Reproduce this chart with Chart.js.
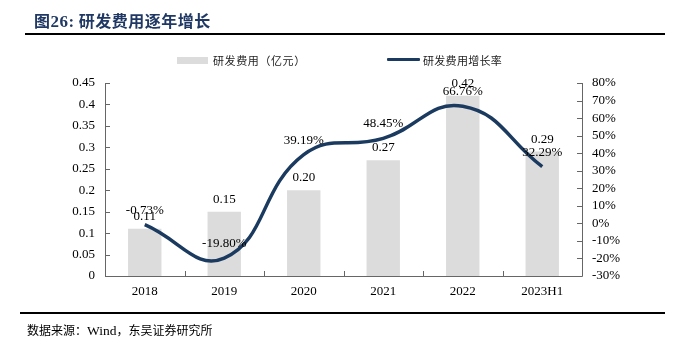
<!DOCTYPE html>
<html>
<head>
<meta charset="utf-8">
<script src="https://cdn.jsdelivr.net/npm/chart.js@4"></script>
<style>
html,body{margin:0;padding:0;background:#fff;}
#wrap{position:relative;width:685px;height:355px;overflow:hidden;}
#c{position:absolute;left:0;top:0;}
.t{position:absolute;white-space:nowrap;}
</style>
</head>
<body>
<div id="wrap">
<canvas id="c" width="685" height="355"></canvas>
<div class="t" style="left:34px;top:8px;font:bold 16px 'Noto Sans CJK SC';color:#1F3864;letter-spacing:0.5px;">图<span style="font-family:'Liberation Serif';font-size:17px;">26:</span> 研发费用逐年增长</div>
<div style="position:absolute;left:25px;top:33px;width:640px;height:2px;background:#000;"></div>
<div style="position:absolute;left:20px;top:312px;width:645px;height:2px;background:#000;"></div>
<div class="t" style="left:27px;top:321px;font:12px 'Noto Sans CJK SC';color:#000;">数据来源：<span style="font-family:'Liberation Serif';font-size:13.5px;">Wind</span>，东吴证券研究所</div>
<div style="position:absolute;left:177px;top:57px;width:31px;height:7px;background:#dcdcdc;"></div>
<div class="t" style="left:213px;top:52px;font:11px 'Noto Sans CJK SC';color:#222;letter-spacing:0.6px;">研发费用（亿元）</div>
<div style="position:absolute;left:387px;top:58px;width:33px;height:3px;background:#1B3A5F;border-radius:1px;"></div>
<div class="t" style="left:423px;top:52px;font:11px 'Noto Sans CJK SC';color:#222;letter-spacing:0.3px;">研发费用增长率</div>
</div>
<script>
const categories = ['2018','2019','2020','2021','2022','2023H1'];
const expense = [0.11, 0.15, 0.20, 0.27, 0.42, 0.29];
const growth = [-0.73, -19.80, 39.19, 48.45, 66.76, 32.29];
const expenseLabels = ['0.11','0.15','0.20','0.27','0.42','0.29'];
const growthLabels = ['-0.73%','-19.80%','39.19%','48.45%','66.76%','32.29%'];

const AREA = {left:105, right:582, top:83, bottom:276};
const serif = "'Liberation Serif', 'Times New Roman', serif";

const axesPlugin = {
  id:'axesPlugin',
  afterDatasetsDraw(chart){
    const ctx = chart.ctx, a = chart.chartArea;
    const yl = chart.scales.y, yr = chart.scales.y2;
    ctx.save();
    ctx.strokeStyle = '#666'; ctx.lineWidth = 1;
    ctx.beginPath();
    ctx.moveTo(a.left+0.5, a.top); ctx.lineTo(a.left+0.5, a.bottom+0.5);
    ctx.lineTo(a.right+0.5, a.bottom+0.5); ctx.lineTo(a.right+0.5, a.top);
    yl.ticks.forEach((t,i)=>{const p=Math.round(yl.getPixelForTick(i))+0.5; ctx.moveTo(a.left,p); ctx.lineTo(a.left+5,p);});
    yr.ticks.forEach((t,i)=>{const p=Math.round(yr.getPixelForTick(i))+0.5; ctx.moveTo(a.right,p); ctx.lineTo(a.right-5,p);});
    for(let i=0;i<=categories.length;i++){
      const p = Math.round(a.left + (a.right-a.left)*i/categories.length)+0.5;
      ctx.moveTo(p,a.bottom); ctx.lineTo(p,a.bottom-5);
    }
    ctx.stroke();
    ctx.fillStyle = '#000';
    ctx.font = "13px " + serif;
    ctx.textAlign = 'center'; ctx.textBaseline = 'alphabetic';
    const m0 = chart.getDatasetMeta(0), m1 = chart.getDatasetMeta(1);
    m0.data.forEach((el,i)=>{ ctx.fillText(expenseLabels[i], el.x, el.y-9); });
    m1.data.forEach((el,i)=>{ ctx.fillText(growthLabels[i], el.x, el.y-11); });
    ctx.restore();
  }
};

new Chart(document.getElementById('c'), {
  data:{
    labels: categories,
    datasets:[
      {type:'bar', label:'研发费用（亿元）', data:expense, yAxisID:'y', backgroundColor:'#dcdcdc',
       barPercentage:0.84, categoryPercentage:0.5, order:2},
      {type:'line', label:'研发费用增长率', data:growth, yAxisID:'y2', borderColor:'#1B3A5F',
       borderWidth:3.5, tension:0.45, pointRadius:0, fill:false, order:1, borderCapStyle:'butt'}
    ]
  },
  options:{
    responsive:false, animation:false,
    devicePixelRatio:1,
    layout:{padding:{left:0,right:0,top:AREA.top,bottom:0}},
    plugins:{legend:{display:false}, tooltip:{enabled:false}},
    scales:{
      x:{
        grid:{display:false, drawTicks:false}, border:{display:false},
        ticks:{color:'#000', font:{family:serif,size:13}, padding:8},
        afterFit(s){ s.height = 355 - AREA.bottom; }
      },
      y:{
        position:'left', min:0, max:0.45,
        grid:{display:false, drawTicks:false}, border:{display:false},
        ticks:{stepSize:0.05, autoSkip:false, color:'#000', font:{family:serif,size:13}, padding:10,
          callback:v=>String(parseFloat(Number(v).toFixed(2)))},
        afterFit(s){ s.width = AREA.left; }
      },
      y2:{
        position:'right', min:-30, max:80,
        grid:{display:false, drawTicks:false}, border:{display:false},
        ticks:{stepSize:10, autoSkip:false, color:'#000', font:{family:serif,size:13}, padding:10,
          callback:v=>Math.round(v)+'%'},
        afterFit(s){ s.width = 685 - AREA.right; }
      }
    }
  },
  plugins:[axesPlugin]
});
</script>
</body>
</html>
